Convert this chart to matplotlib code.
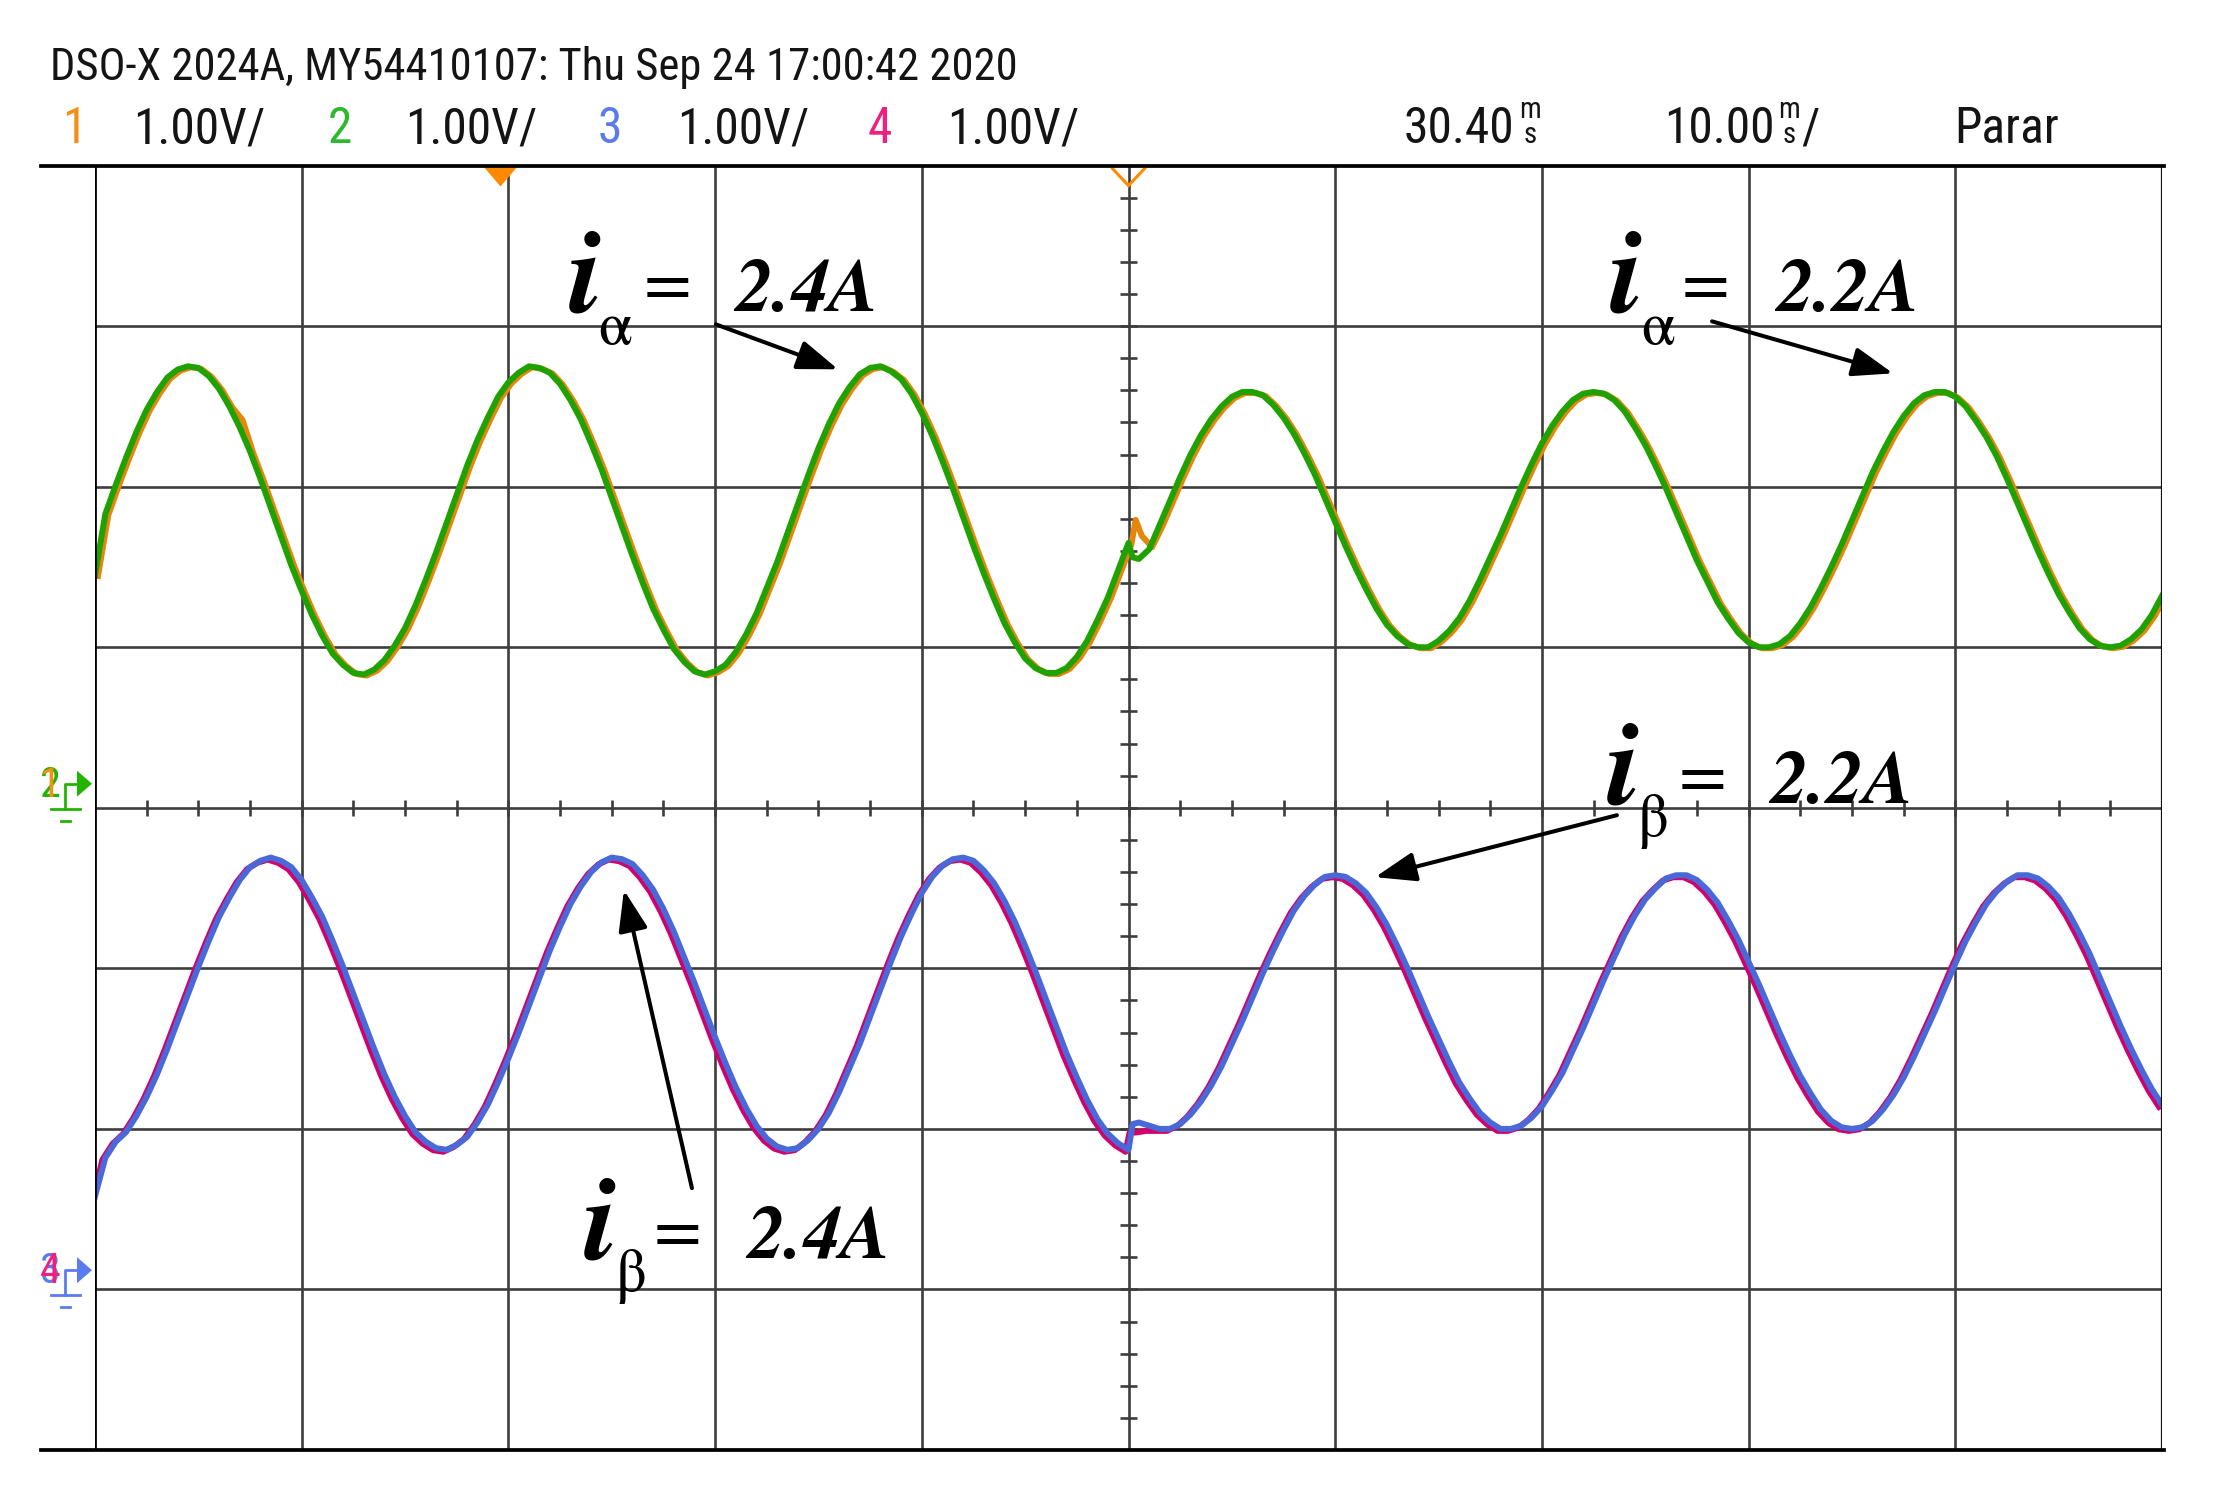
import numpy as np
import matplotlib
matplotlib.use('Agg')
import matplotlib.pyplot as plt
from matplotlib.transforms import ScaledTranslation
from matplotlib.lines import Line2D
from matplotlib.patches import Polygon
from matplotlib import font_manager as fm
from matplotlib.font_manager import FontProperties
from matplotlib.textpath import TextPath

# ---------------- data (scope divisions) ----------------
# sample instants in divisions (10 ms/div); the transient happens at the centre (5 div)
time_div = np.r_[np.arange(0, 101) * 0.05, 5.02, 5.05 + np.arange(0, 100) * 0.05]

# channel 2 (green, i_alpha)
ch2 = [1.45, 1.83, 2.01, 2.18, 2.34, 2.48, 2.59, 2.68, 2.73, 2.75,
       2.74, 2.69, 2.61, 2.50, 2.37, 2.22, 2.05, 1.87, 1.69, 1.51,
       1.35, 1.20, 1.07, 0.96, 0.89, 0.84, 0.83, 0.86, 0.92, 1.01,
       1.12, 1.26, 1.42, 1.59, 1.77, 1.95, 2.13, 2.29, 2.43, 2.56,
       2.65, 2.71, 2.75, 2.74, 2.71, 2.64, 2.54, 2.42, 2.27, 2.11,
       1.93, 1.75, 1.57, 1.40, 1.24, 1.11, 0.99, 0.91, 0.85, 0.83,
       0.85, 0.89, 0.97, 1.08, 1.21, 1.37, 1.53, 1.71, 1.89, 2.07,
       2.24, 2.39, 2.52, 2.62, 2.70, 2.74, 2.75, 2.72, 2.67, 2.58,
       2.46, 2.32, 2.16, 1.99, 1.81, 1.63, 1.46, 1.30, 1.15, 1.03,
       0.93, 0.87, 0.84, 0.84, 0.87, 0.94, 1.04, 1.17, 1.31, 1.48,
       1.65,
       1.56,
       1.55, 1.61, 1.76, 1.91, 2.06, 2.20, 2.32, 2.42, 2.50, 2.56,
       2.59, 2.59, 2.57, 2.51, 2.43, 2.33, 2.21, 2.08, 1.93, 1.78,
       1.63, 1.49, 1.36, 1.24, 1.14, 1.07, 1.02, 1.00, 1.00, 1.04,
       1.10, 1.18, 1.29, 1.42, 1.56, 1.70, 1.85, 2.00, 2.14, 2.27,
       2.38, 2.47, 2.54, 2.58, 2.59, 2.58, 2.54, 2.47, 2.37, 2.26,
       2.13, 1.99, 1.84, 1.69, 1.54, 1.41, 1.28, 1.18, 1.09, 1.03,
       1.00, 1.00, 1.02, 1.07, 1.15, 1.25, 1.37, 1.50, 1.64, 1.79,
       1.94, 2.09, 2.22, 2.34, 2.44, 2.52, 2.57, 2.59, 2.59, 2.56,
       2.50, 2.41, 2.31, 2.19, 2.05, 1.90, 1.75, 1.60, 1.46, 1.33,
       1.22, 1.12, 1.05, 1.01, 1.00, 1.01, 1.05, 1.11, 1.20, 1.32]

# channel 1 (orange, reference of i_alpha, mostly hidden under channel 2)
ch1 = [1.45, 1.83, 2.01, 2.18, 2.34, 2.48, 2.59, 2.68, 2.73, 2.75,
       2.74, 2.69, 2.61, 2.50, 2.42, 2.22, 2.05, 1.87, 1.69, 1.51,
       1.35, 1.20, 1.07, 0.96, 0.89, 0.84, 0.83, 0.86, 0.92, 1.01,
       1.12, 1.26, 1.42, 1.59, 1.77, 1.95, 2.13, 2.29, 2.43, 2.56,
       2.65, 2.71, 2.75, 2.74, 2.71, 2.64, 2.54, 2.42, 2.27, 2.11,
       1.93, 1.75, 1.57, 1.40, 1.24, 1.11, 0.99, 0.91, 0.85, 0.83,
       0.85, 0.89, 0.97, 1.08, 1.21, 1.37, 1.53, 1.71, 1.89, 2.07,
       2.24, 2.39, 2.52, 2.62, 2.70, 2.74, 2.75, 2.72, 2.67, 2.58,
       2.46, 2.32, 2.16, 1.99, 1.81, 1.63, 1.46, 1.30, 1.15, 1.03,
       0.93, 0.87, 0.84, 0.84, 0.87, 0.94, 1.04, 1.17, 1.31, 1.48,
       1.65,
       1.80,
       1.70, 1.63, 1.76, 1.91, 2.06, 2.20, 2.32, 2.42, 2.50, 2.56,
       2.59, 2.59, 2.57, 2.51, 2.43, 2.33, 2.21, 2.08, 1.93, 1.78,
       1.63, 1.49, 1.36, 1.24, 1.14, 1.07, 1.02, 1.00, 1.00, 1.04,
       1.10, 1.18, 1.29, 1.42, 1.56, 1.70, 1.85, 2.00, 2.14, 2.27,
       2.38, 2.47, 2.54, 2.58, 2.59, 2.58, 2.54, 2.47, 2.37, 2.26,
       2.13, 1.99, 1.84, 1.69, 1.54, 1.41, 1.28, 1.18, 1.09, 1.03,
       1.00, 1.00, 1.02, 1.07, 1.15, 1.25, 1.37, 1.50, 1.64, 1.79,
       1.94, 2.09, 2.22, 2.34, 2.44, 2.52, 2.57, 2.59, 2.59, 2.56,
       2.50, 2.41, 2.31, 2.19, 2.05, 1.90, 1.75, 1.60, 1.46, 1.33,
       1.22, 1.12, 1.05, 1.01, 1.00, 1.01, 1.05, 1.11, 1.20, 1.32]

# channel 3 (blue, i_beta)
ch3 = [-2.42, -2.18, -2.08, -2.02, -1.92, -1.80, -1.66, -1.50, -1.33, -1.16,
       -0.99, -0.83, -0.68, -0.56, -0.45, -0.37, -0.33, -0.31, -0.33, -0.37,
       -0.45, -0.56, -0.68, -0.83, -0.99, -1.16, -1.33, -1.50, -1.66, -1.80,
       -1.92, -2.02, -2.08, -2.12, -2.13, -2.10, -2.05, -1.96, -1.85, -1.71,
       -1.56, -1.40, -1.23, -1.06, -0.89, -0.74, -0.60, -0.49, -0.40, -0.34,
       -0.31, -0.32, -0.35, -0.42, -0.51, -0.63, -0.77, -0.93, -1.09, -1.26,
       -1.43, -1.59, -1.74, -1.87, -1.98, -2.06, -2.11, -2.13, -2.12, -2.07,
       -2.00, -1.90, -1.77, -1.62, -1.47, -1.30, -1.13, -0.96, -0.80, -0.66,
       -0.53, -0.43, -0.36, -0.32, -0.31, -0.33, -0.39, -0.47, -0.58, -0.71,
       -0.86, -1.02, -1.19, -1.36, -1.53, -1.68, -1.82, -1.94, -2.03, -2.09,
       -2.13,
       -1.97,
       -1.96, -1.98, -2.00, -2.00, -1.97, -1.91, -1.83, -1.73, -1.61, -1.47,
       -1.33, -1.18, -1.03, -0.89, -0.76, -0.64, -0.55, -0.48, -0.43, -0.42,
       -0.43, -0.47, -0.53, -0.62, -0.73, -0.86, -1.00, -1.15, -1.30, -1.44,
       -1.58, -1.71, -1.81, -1.90, -1.96, -2.00, -2.00, -1.98, -1.93, -1.86,
       -1.76, -1.65, -1.51, -1.37, -1.22, -1.07, -0.93, -0.79, -0.67, -0.57,
       -0.50, -0.44, -0.42, -0.42, -0.45, -0.51, -0.59, -0.70, -0.82, -0.96,
       -1.10, -1.25, -1.40, -1.54, -1.67, -1.78, -1.88, -1.95, -1.99, -2.00,
       -1.99, -1.95, -1.88, -1.79, -1.68, -1.55, -1.41, -1.27, -1.12, -0.97,
       -0.83, -0.71, -0.60, -0.52, -0.46, -0.42, -0.42, -0.44, -0.49, -0.56,
       -0.66, -0.78, -0.91, -1.06, -1.21, -1.36, -1.50, -1.63, -1.75, -1.85]

# channel 4 (magenta, reference of i_beta, mostly hidden under channel 3)
ch4 = [-2.46, -2.18, -2.08, -2.02, -1.92, -1.80, -1.66, -1.50, -1.33, -1.16,
       -0.99, -0.83, -0.68, -0.56, -0.45, -0.37, -0.33, -0.31, -0.33, -0.37,
       -0.45, -0.56, -0.68, -0.83, -0.99, -1.16, -1.33, -1.50, -1.66, -1.80,
       -1.92, -2.02, -2.08, -2.12, -2.13, -2.10, -2.05, -1.96, -1.85, -1.71,
       -1.56, -1.40, -1.23, -1.06, -0.89, -0.74, -0.60, -0.49, -0.40, -0.34,
       -0.31, -0.32, -0.35, -0.42, -0.51, -0.63, -0.77, -0.93, -1.09, -1.26,
       -1.43, -1.59, -1.74, -1.87, -1.98, -2.06, -2.11, -2.13, -2.12, -2.07,
       -2.00, -1.90, -1.77, -1.62, -1.47, -1.30, -1.13, -0.96, -0.80, -0.66,
       -0.53, -0.43, -0.36, -0.32, -0.31, -0.33, -0.39, -0.47, -0.58, -0.71,
       -0.86, -1.02, -1.19, -1.36, -1.53, -1.68, -1.82, -1.94, -2.03, -2.09,
       -2.13,
       -2.01,
       -2.01, -2.00, -2.00, -2.00, -1.97, -1.91, -1.83, -1.73, -1.61, -1.47,
       -1.33, -1.18, -1.03, -0.89, -0.76, -0.64, -0.55, -0.48, -0.43, -0.42,
       -0.43, -0.47, -0.53, -0.62, -0.73, -0.86, -1.00, -1.15, -1.30, -1.44,
       -1.58, -1.71, -1.81, -1.90, -1.96, -2.00, -2.00, -1.98, -1.93, -1.86,
       -1.76, -1.65, -1.51, -1.37, -1.22, -1.07, -0.93, -0.79, -0.67, -0.57,
       -0.50, -0.44, -0.42, -0.42, -0.45, -0.51, -0.59, -0.70, -0.82, -0.96,
       -1.10, -1.25, -1.40, -1.54, -1.67, -1.78, -1.88, -1.95, -1.99, -2.00,
       -1.99, -1.95, -1.88, -1.79, -1.68, -1.55, -1.41, -1.27, -1.12, -0.97,
       -0.83, -0.71, -0.60, -0.52, -0.46, -0.42, -0.42, -0.44, -0.49, -0.56,
       -0.66, -0.78, -0.91, -1.06, -1.21, -1.36, -1.50, -1.63, -1.75, -1.85]

header_line = 'DSO-X 2024A, MY54410107: Thu Sep 24 17:00:42 2020'
channel_labels = ['1', '2', '3', '4']
channel_scales = ['1.00V/', '1.00V/', '1.00V/', '1.00V/']
time_delay = '30.40'
time_scale = '10.00'
time_unit = 'm\ns'
run_state = 'Parar'

# annotation texts: (subscript, value)
annotations = [('\u03b1', '2.4A'), ('\u03b1', '2.2A'), ('\u03b2', '2.2A'), ('\u03b2', '2.4A')]

trigger_pos_div = 1.96
gnd_ch12_div = 0.15
gnd_ch34_div = -2.88

# ---------------- figure ----------------
W, H, DPI = 2219, 1502, 100
fig = plt.figure(figsize=(W/DPI, H/DPI), dpi=DPI)
fig.patch.set_facecolor('white')
L, R, T, B = 95, 2162, 165.6, 1450
ax = fig.add_axes([L/W, 1-B/H, (R-L)/W, (B-T)/H])
ax.set_xlim(0, 10); ax.set_ylim(-4, 4)
ax.axis('off')

def fx(x): return x / W
def fy(y): return 1 - y / H

# ---- pick the narrowest suitable sans font available (scope font is condensed)
def _ratio(fp):
    w = TextPath((0, 0), '1.00V/', size=100, prop=fp).get_extents().width
    h = TextPath((0, 0), 'H', size=100, prop=fp).get_extents().height
    return w / h

best_fp, best_score = FontProperties(family='Liberation Sans'), None
for f in fm.fontManager.ttflist:
    n = f.name.lower()
    if any(k in n for k in ('mono', 'serif', 'cjk', 'math', 'display', 'symbol')):
        continue
    if f.style != 'normal' or f.weight not in (400, 'normal', 'regular', 'book'):
        continue
    if not any(k in n for k in ('liberation sans', 'roboto', 'noto sans', 'dejavu sans', 'open sans', 'lato')):
        continue
    try:
        fp = FontProperties(fname=f.fname)
        r = _ratio(fp)
    except Exception:
        continue
    score = abs(r - 3.43)
    if best_score is None or score < best_score:
        best_fp, best_score = fp, score

def fitted(s, width_px):
    w100 = TextPath((0, 0), s, size=100, prop=best_fp).get_extents().width
    return 100 * (width_px * 72 / DPI) / w100

def nfp(size):
    p = best_fp.copy(); p.set_size(size); return p

row1_size = fitted(header_line, 960)
row2_size = fitted('1.00V/', 127)
unit_size = fitted('m', 18)

grid_c = '#3d3d3d'
for x in range(1, 10):
    ax.axvline(x, color=grid_c, lw=1.9, zorder=1)
for y in range(-3, 4):
    ax.axhline(y, color=grid_c, lw=1.9, zorder=1)
xt = np.arange(0.25, 10, 0.25)
ax.vlines(xt, -0.05, 0.05, color=grid_c, lw=1.9, zorder=1)
yt = np.round(np.arange(-3.8, 3.81, 0.2), 2)
ax.hlines(yt, 5-0.039, 5+0.039, color=grid_c, lw=1.9, zorder=1)

# traces
orange, green, blue, magenta = '#E4870C', '#1FA200', '#4A68D8', '#D3006B'
def off(dx, dy):
    return ax.transData + ScaledTranslation(dx/DPI, dy/DPI, fig.dpi_scale_trans)
lw_tr = 4.3
ax.plot(time_div, ch1, color=orange, lw=lw_tr, transform=off(3, -1), zorder=3)
ax.plot(time_div, ch2, color=green, lw=lw_tr, zorder=4)
ax.plot(time_div, ch4, color=magenta, lw=lw_tr, transform=off(-3, -2), zorder=3)
ax.plot(time_div, ch3, color=blue, lw=lw_tr, zorder=4)

# borders
ax.axvline(0, color='black', lw=2.7, zorder=6)
ax.axvline(10, color='#111111', lw=2.3, zorder=6)
for yb in (T, B):
    fig.add_artist(Line2D([fx(41), fx(2164)], [fy(yb), fy(yb)], color='black', lw=2.7, zorder=6))

# trigger markers
trig_orange = '#FF8A00'
tri = [(-17, 0), (17, 0), (0, -20)]
ax.plot([trigger_pos_div], [4], marker=tri, ms=28.8, mfc=trig_orange, mec='none', ls='none',
        clip_on=False, zorder=5)
cx, cy = ax.transData.transform((5, 4))
fig.add_artist(Line2D([(cx-16)/W, cx/W, (cx+16)/W], [(cy-3)/H, (cy-20)/H, (cy-3)/H],
                      color=trig_orange, lw=2.2, zorder=5, solid_joinstyle='miter'))

# ground markers
def ground(ydiv, col, lab_under, col_under, lab_over, col_over):
    py = H - ax.transData.transform((0, ydiv))[1]
    fig.add_artist(Polygon([(fx(77), fy(py-13)), (fx(77), fy(py+13)), (fx(92), fy(py))],
                           closed=True, transform=fig.transFigure, fc=col, ec='none'))
    fig.add_artist(Line2D([fx(78), fx(65), fx(65)], [fy(py), fy(py), fy(py+25)], color=col, lw=2.0))
    fig.add_artist(Line2D([fx(51), fx(80)], [fy(py+25), fy(py+25)], color=col, lw=2.0))
    fig.add_artist(Line2D([fx(61), fx(70)], [fy(py+37), fy(py+37)], color=col, lw=2.0))
    for s, c in ((lab_under, col_under), (lab_over, col_over)):
        fig.text(fx(50), fy(py+13), s, color=c, fontproperties=nfp(row2_size*0.85),
                 ha='center', va='baseline')

ground(gnd_ch12_div, '#22B400', channel_labels[1], '#22B400', channel_labels[0], '#F39019')
ground(gnd_ch34_div, '#5A7CF0', channel_labels[2], '#5A7CF0', channel_labels[3], '#F0207F')

# header
hc = '#141414'
fig.text(fx(50), fy(80), header_line, fontproperties=nfp(row1_size), color=hc, ha='left', va='baseline')
ch_cols = ['#F39019', '#2DB92D', '#5B7BEB', '#F0207F']
ch_x = [62, 328, 598, 868]
sc_x = [133, 405, 677, 947]
for lab, sc, c, x1, x2 in zip(channel_labels, channel_scales, ch_cols, ch_x, sc_x):
    fig.text(fx(x1), fy(143), lab, fontproperties=nfp(row2_size), color=c, ha='left', va='baseline')
    fig.text(fx(x2), fy(143), sc, fontproperties=nfp(row2_size), color=hc, ha='left', va='baseline')
fig.text(fx(1514), fy(143), time_delay, fontproperties=nfp(row2_size), color=hc, ha='right', va='baseline')
fig.text(fx(1775), fy(143), time_scale, fontproperties=nfp(row2_size), color=hc, ha='right', va='baseline')
fig.text(fx(1801), fy(143), '/', fontproperties=nfp(row2_size), color=hc, ha='left', va='baseline')
fig.text(fx(1954), fy(143), run_state, fontproperties=nfp(row2_size), color=hc, ha='left', va='baseline')
for x in (1519, 1778):
    fig.text(fx(x), fy(143), time_unit, fontproperties=nfp(unit_size), color=hc, ha='left',
             va='baseline', linespacing=0.86, multialignment='center')

# annotations
SER = 'STIXGeneral'
def label(sub, val, ix, iy, sx, sy, ex, ey, vx, vy, a0, a1):
    ax.text(ix, iy, 'i', fontsize=86, family=SER, weight='bold', style='italic', ha='center',
            va='baseline', clip_on=False, zorder=7)
    ax.text(sx, sy, sub, fontsize=44, family=SER, ha='left', va='baseline', clip_on=False, zorder=7)
    ax.text(ex, ey, '=', fontsize=50, family=SER, ha='center', va='center', clip_on=False, zorder=7)
    ax.text(vx, vy, val, fontsize=54, family=SER, weight='bold', style='italic', ha='left',
            va='baseline', clip_on=False, zorder=7)
    ax.annotate('', xy=a1, xytext=a0, xycoords='data', textcoords='data', annotation_clip=False,
                arrowprops=dict(arrowstyle='-|>,head_length=1.0,head_width=0.36', mutation_scale=25,
                                lw=2.9, color='black', shrinkA=0, shrinkB=0), zorder=7)

label(*annotations[0], 2.371, 3.092, 2.433, 2.887, 2.767, 3.230, 3.096, 3.092, (3.004, 3.011), (3.595, 2.731))
label(*annotations[1], 7.407, 3.092, 7.479, 2.887, 7.789, 3.230, 8.133, 3.092, (7.823, 3.030), (8.699, 2.706))
label(*annotations[2], 7.392, 0.029, 7.465, -0.177, 7.775, 0.166, 8.104, 0.029, (7.363, -0.046), (6.193, -0.432))
label(*annotations[3], 2.443, -2.806, 2.521, -3.012, 2.820, -2.667, 3.154, -2.806, (2.888, -2.369), (2.559, -0.513))

fig.savefig('out.png', dpi=DPI, facecolor='white')
